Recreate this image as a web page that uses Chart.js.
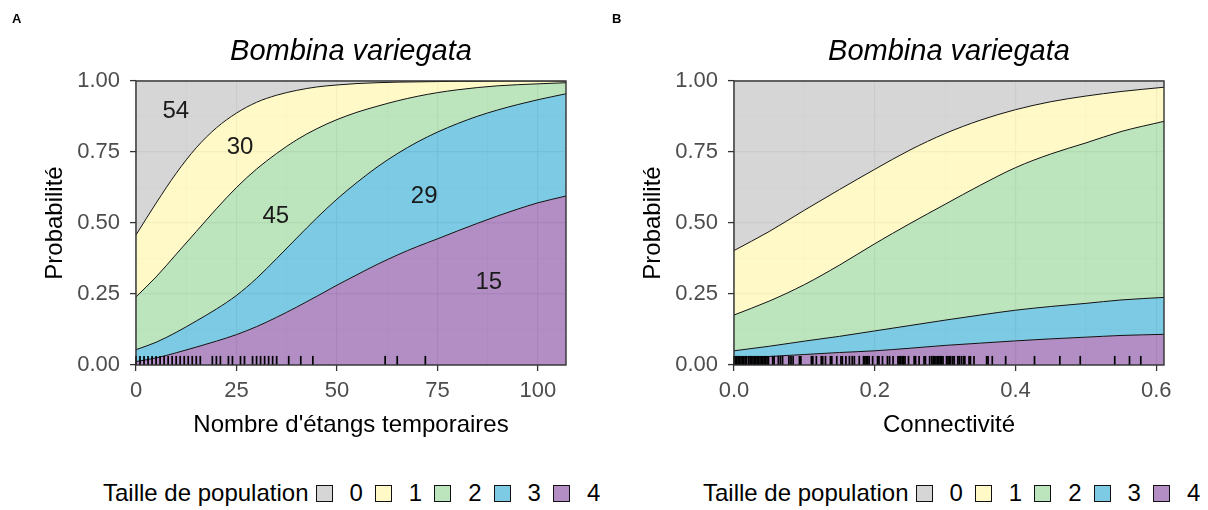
<!DOCTYPE html>
<html lang="fr">
<head>
<meta charset="utf-8">
<title>Bombina variegata – taille de population</title>
<script src="https://cdn.jsdelivr.net/npm/chart.js@4.4.1/dist/chart.umd.min.js"></script>
<style>
  body { margin: 0; background: #fff; }
  #wrap { position: relative; width: 1208px; height: 510px; font-family: "Liberation Sans", Arial, sans-serif; }
  .panel { position: absolute; top: 0; width: 604px; height: 450px; }
  .legend { position: absolute; top: 479px; height: 28px; display: flex; align-items: center; font-size: 24px; color: #000; white-space: nowrap; }
  .legend .box { width: 17px; height: 17px; box-sizing: border-box; border: 1.8px solid #111; margin-left: 12px; }
  .legend .box.first { margin-left: 7px; }
  .legend .lab { margin-left: 17px; }
</style>
</head>
<body>
<div id="wrap">
  <div class="panel" style="left:0"><canvas id="chartA" width="604" height="450"></canvas></div>
  <div class="panel" style="left:598px"><canvas id="chartB" width="604" height="450"></canvas></div>
  <div class="legend" id="legendA" style="left:103px"></div>
  <div class="legend" id="legendB" style="left:703px"></div>
</div>
<script>
// ---- Données -------------------------------------------------------------

const tailles = ['0', '1', '2', '3', '4'];

// Panneau A : probabilités cumulées P(taille >= k) selon le nombre d'étangs
const xEtangs   = [0, 5, 10, 15, 20, 25, 30, 35, 40, 45, 50, 55, 60, 65, 70, 75, 80, 85, 90, 95, 100, 107];
const etangsGe1 = [0.458, 0.57, 0.675, 0.765, 0.835, 0.887, 0.925, 0.95, 0.967, 0.979, 0.986, 0.991, 0.994, 0.996, 0.997, 0.998, 0.999, 0.999, 1.0, 1.0, 1.0, 1.0];
const etangsGe2 = [0.24, 0.31, 0.39, 0.47, 0.55, 0.625, 0.69, 0.745, 0.793, 0.832, 0.864, 0.89, 0.911, 0.93, 0.946, 0.959, 0.969, 0.977, 0.983, 0.987, 0.99, 0.994];
const etangsGe3 = [0.054, 0.08, 0.115, 0.155, 0.197, 0.245, 0.305, 0.375, 0.447, 0.518, 0.584, 0.643, 0.697, 0.744, 0.785, 0.82, 0.85, 0.876, 0.898, 0.917, 0.934, 0.955];
const etangsGe4 = [0.012, 0.025, 0.043, 0.063, 0.084, 0.107, 0.135, 0.168, 0.204, 0.242, 0.281, 0.318, 0.354, 0.387, 0.417, 0.444, 0.472, 0.499, 0.525, 0.549, 0.571, 0.595];
const rugEtangs = [0, 1, 2, 3, 4, 5, 6, 7, 8, 9, 10, 11, 12, 13, 14, 15, 16, 19, 20, 21, 23, 24, 26, 27,
                   29, 30, 31, 32, 33, 34, 35, 38, 41, 44, 62, 65, 72];
// effectifs inscrits dans les zones
const effectifs  = ['54', '30', '45', '29', '15'];
const effectifsX = [9.9, 25.9, 34.8, 71.7, 87.8];
const effectifsY = [0.894, 0.767, 0.522, 0.593, 0.29];

// Panneau B : probabilités cumulées selon la connectivité
const xConnect   = [0, 0.05, 0.1, 0.15, 0.2, 0.25, 0.3, 0.35, 0.4, 0.45, 0.5, 0.55, 0.611];
const connectGe1 = [0.403, 0.47, 0.545, 0.618, 0.689, 0.757, 0.815, 0.862, 0.899, 0.927, 0.947, 0.963, 0.978];
const connectGe2 = [0.176, 0.225, 0.283, 0.352, 0.427, 0.498, 0.566, 0.633, 0.695, 0.743, 0.782, 0.822, 0.858];
const connectGe3 = [0.050, 0.066, 0.084, 0.101, 0.120, 0.139, 0.158, 0.176, 0.193, 0.206, 0.217, 0.229, 0.238];
const connectGe4 = [0.025, 0.030, 0.037, 0.044, 0.050, 0.059, 0.069, 0.077, 0.085, 0.092, 0.098, 0.104, 0.108];
const rugConnect = [0.000, 0.002, 0.004, 0.006, 0.008, 0.010, 0.012, 0.014, 0.016, 0.018,
                    0.021, 0.023, 0.025, 0.027, 0.029, 0.031, 0.033, 0.035, 0.037, 0.039, 0.041, 0.043, 0.045, 0.047, 0.049,
                    0.055, 0.057, 0.063, 0.066, 0.069, 0.078, 0.081, 0.084, 0.093, 0.095, 0.110, 0.112, 0.117, 0.124,
                    0.126, 0.130, 0.137, 0.139, 0.146, 0.152, 0.154, 0.159, 0.164, 0.168, 0.171, 0.178, 0.184, 0.186,
                    0.188, 0.190, 0.192, 0.197, 0.204, 0.206, 0.211, 0.218, 0.221, 0.226, 0.233, 0.235, 0.237, 0.239,
                    0.241, 0.243, 0.248, 0.256, 0.258, 0.263, 0.270, 0.272, 0.278, 0.281, 0.283, 0.285, 0.287, 0.289,
                    0.291, 0.293, 0.295, 0.297, 0.302, 0.304, 0.306, 0.308, 0.311, 0.313, 0.318, 0.320, 0.323, 0.326,
                    0.328, 0.334, 0.336, 0.341, 0.359, 0.361, 0.367, 0.386, 0.427, 0.463, 0.492, 0.541, 0.562, 0.578];

// ---- Styles ------------------------------------------------------------------

const FONT = '"Liberation Sans", Arial, sans-serif';
const couleurs = ['rgba(204,204,204,0.8)', 'rgba(255,248,186,0.8)', 'rgba(172,222,172,0.8)',
                  'rgba(91,189,221,0.8)', 'rgba(159,114,181,0.8)'];

Chart.defaults.font.family = FONT;

function serie(xs, ys) {
    return xs.map((x, i) => ({ x: x, y: ys[i] }));
}

function estMajeur(v, pas) {
    const r = v / pas;
    return Math.abs(r - Math.round(r)) < 1e-6;
}

// Titre, lettre du panneau, rug, cadre et effectifs
function decor(p) {
    return {
        id: 'decor' + p.lettre,
        afterDatasetsDraw(chart) {
            const ctx = chart.ctx;
            const { left, right, top, bottom } = chart.chartArea;
            const xs = chart.scales.x, ys = chart.scales.y;

            ctx.save();
            ctx.strokeStyle = '#000';
            ctx.lineWidth = 1.7;
            const h = (bottom - top) * 0.032;
            p.rug.forEach(v => {
                const px = xs.getPixelForValue(v);
                ctx.beginPath();
                ctx.moveTo(px, bottom);
                ctx.lineTo(px, bottom - h);
                ctx.stroke();
            });

            ctx.strokeStyle = '#333';
            ctx.lineWidth = 1.4;
            ctx.strokeRect(left, top, right - left, bottom - top);

            if (p.textes) {
                ctx.fillStyle = '#1a1a1a';
                ctx.font = '24px ' + FONT;
                ctx.textAlign = 'center';
                ctx.textBaseline = 'middle';
                p.textes.forEach((t, i) => {
                    ctx.fillText(t, xs.getPixelForValue(p.textesX[i]), ys.getPixelForValue(p.textesY[i]));
                });
            }
            ctx.restore();
        },
        afterDraw(chart) {
            const ctx = chart.ctx;
            const { left, right } = chart.chartArea;
            ctx.save();
            ctx.fillStyle = '#000';
            ctx.textAlign = 'center';
            ctx.textBaseline = 'middle';
            ctx.font = 'italic 29px ' + FONT;
            ctx.fillText('Bombina variegata', (left + right) / 2, 52);
            ctx.font = 'bold 13px ' + FONT;
            ctx.textAlign = 'left';
            ctx.fillText(p.lettre, p.lettreX, 19);
            ctx.restore();
        }
    };
}

function grille(pas) {
    return {
        color: c => (c.tick && estMajeur(c.tick.value, pas)) ? '#CCCCCC' : '#DCDCDC',
        lineWidth: c => (c.tick && estMajeur(c.tick.value, pas)) ? 1.2 : 0.6,
        tickColor: c => (c.tick && estMajeur(c.tick.value, pas)) ? '#333' : 'rgba(0,0,0,0)',
        tickLength: 6,
        tickWidth: 1.3
    };
}

function creerPanneau(canvasId, p) {
    const ctx = document.getElementById(canvasId).getContext('2d');
    const trait = { borderColor: '#111', borderWidth: 1, pointRadius: 0, cubicInterpolationMode: 'monotone' };
    return new Chart(ctx, {
        type: 'line',
        data: {
            datasets: [
                { ...trait, label: tailles[4], data: serie(p.x, p.ge4), backgroundColor: couleurs[4], fill: 'origin' },
                { ...trait, label: tailles[3], data: serie(p.x, p.ge3), backgroundColor: couleurs[3], fill: '-1' },
                { ...trait, label: tailles[2], data: serie(p.x, p.ge2), backgroundColor: couleurs[2], fill: '-1' },
                { ...trait, label: tailles[1], data: serie(p.x, p.ge1), backgroundColor: couleurs[1], fill: '-1' },
                { ...trait, label: tailles[0], data: serie(p.x, p.ge1), backgroundColor: couleurs[0], borderWidth: 0, fill: 'end' }
            ]
        },
        options: {
            responsive: false,
            animation: false,
            layout: { padding: { top: 81, right: 38, bottom: 5, left: 0 } },
            plugins: { legend: { display: false }, tooltip: { enabled: false } },
            scales: {
                x: {
                    type: 'linear',
                    min: 0,
                    max: p.xMax,
                    border: { display: false },
                    grid: grille(p.xMajeur),
                    ticks: {
                        stepSize: p.xMajeur / 2,
                        includeBounds: false,
                        autoSkip: false,
                        maxRotation: 0,
                        padding: 7,
                        color: '#4D4D4D',
                        font: { size: 22 },
                        callback: v => estMajeur(v, p.xMajeur) ? p.fmtX(v) : ''
                    },
                    title: { display: true, text: p.titreX, color: '#000', font: { size: 24 }, padding: { top: 0, bottom: 5 } },
                    afterFit: s => { s.height = 80; }
                },
                y: {
                    min: 0,
                    max: 1,
                    border: { display: false },
                    grid: grille(0.25),
                    ticks: {
                        stepSize: 0.125,
                        autoSkip: false,
                        padding: 10,
                        color: '#4D4D4D',
                        font: { size: 22 },
                        callback: v => estMajeur(v, 0.25) ? v.toFixed(2) : ''
                    },
                    title: { display: true, text: 'Probabilité', color: '#000', font: { size: 24 }, padding: { top: 41, bottom: 0 } },
                    afterFit: s => { s.width = 136; }
                }
            }
        },
        plugins: [decor(p)]
    });
}

function creerLegende(id) {
    const el = document.getElementById(id);
    const titre = document.createElement('span');
    titre.textContent = 'Taille de population';
    el.appendChild(titre);
    tailles.forEach((t, i) => {
        const b = document.createElement('span');
        b.className = 'box' + (i === 0 ? ' first' : '');
        b.style.background = couleurs[i];
        el.appendChild(b);
        const l = document.createElement('span');
        l.className = 'lab';
        l.textContent = t;
        el.appendChild(l);
    });
}

creerPanneau('chartA', {
    lettre: 'A', lettreX: 12,
    x: xEtangs, ge1: etangsGe1, ge2: etangsGe2, ge3: etangsGe3, ge4: etangsGe4,
    xMax: 107, xMajeur: 25, fmtX: v => String(v),
    titreX: "Nombre d'étangs temporaires",
    rug: rugEtangs,
    textes: effectifs, textesX: effectifsX, textesY: effectifsY
});

creerPanneau('chartB', {
    lettre: 'B', lettreX: 14,
    x: xConnect, ge1: connectGe1, ge2: connectGe2, ge3: connectGe3, ge4: connectGe4,
    xMax: 0.611, xMajeur: 0.2, fmtX: v => v.toFixed(1),
    titreX: 'Connectivité',
    rug: rugConnect
});

creerLegende('legendA');
creerLegende('legendB');
</script>
</body>
</html>
